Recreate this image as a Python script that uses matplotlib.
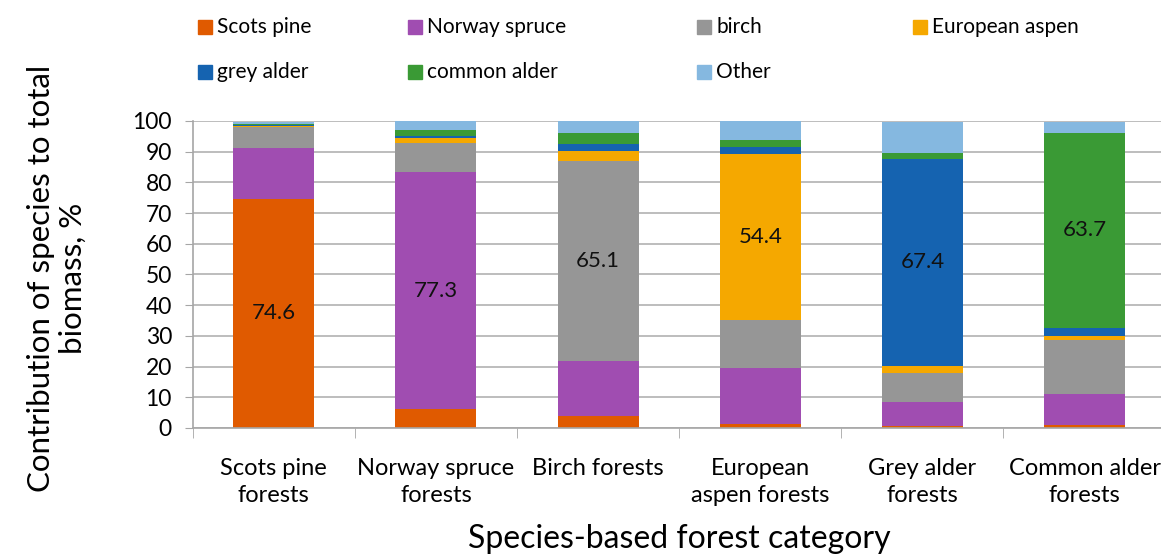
import matplotlib
matplotlib.use("Agg")
import matplotlib.pyplot as plt
import numpy as np
from matplotlib.patches import Rectangle

plt.rcParams['font.family'] = ['Lato', 'DejaVu Sans']

categories = ["Scots pine\nforests", "Norway spruce\nforests", "Birch forests",
              "European\naspen forests", "Grey alder\nforests", "Common alder\nforests"]
species = ["Scots pine", "Norway spruce", "birch", "European aspen",
           "grey alder", "common alder", "Other"]
colors = ["#E05A00", "#A04DB1", "#969696", "#F5A800", "#1563B0", "#3A9A35", "#85B8E0"]

# share of each species, % (one list per species, one value per forest category)
scots_pine = [74.6, 6.0, 3.8, 1.4, 0.7, 0.9]
norway_spruce = [16.7, 77.3, 18.1, 18.0, 7.6, 10.3]
birch = [6.8, 9.5, 65.1, 15.6, 9.5, 17.4]
european_aspen = [0.4, 1.5, 3.1, 54.4, 2.4, 1.4]
grey_alder = [0.1, 0.8, 2.3, 2.2, 67.4, 2.5]
common_alder = [0.3, 2.1, 3.7, 2.1, 1.9, 63.7]
other = [0.9, 2.7, 3.8, 6.3, 10.3, 3.5]
series = [scots_pine, norway_spruce, birch, european_aspen, grey_alder, common_alder, other]

fig = plt.figure(figsize=(11.61, 5.55), dpi=100)
ax = fig.add_axes([0.166, 0.229, 0.838, 0.553])

x = np.arange(len(categories))
bottom = np.zeros(len(categories))
for vals, col in zip(series, colors):
    vals = np.array(vals)
    ax.bar(x, vals, width=0.5, bottom=bottom, color=col, zorder=2)
    bottom += vals

# value labels on the dominant species of each category
for i in range(len(categories)):
    base = sum(series[j][i] for j in range(i))
    v = series[i][i]
    ax.text(i, base + v / 2, f"{v:.1f}", ha='center', va='center', fontsize=16,
            color='#111111', zorder=3)

ax.set_ylim(0, 100)
ax.set_xlim(-0.5, len(categories) - 0.5)
ax.set_yticks(range(0, 101, 10))
ax.yaxis.grid(True, color='#bdbdbd', linewidth=1.4, zorder=0)
ax.set_axisbelow(True)
for s in ['top', 'right']:
    ax.spines[s].set_visible(False)
for s in ['left', 'bottom']:
    ax.spines[s].set_color('#a6a6a6')
    ax.spines[s].set_linewidth(1.2)
ax.tick_params(axis='y', length=6, color='#a6a6a6', labelsize=16.5, pad=9)
ax.set_xticks(x)
ax.set_xticklabels(categories, fontsize=17, linespacing=1.3)
ax.set_xticks(np.arange(len(categories)) - 0.5, minor=True)
ax.tick_params(axis='x', which='major', length=0, pad=22)
ax.tick_params(axis='x', which='minor', length=7, color='#a6a6a6')

ax.set_xlabel("Species-based forest category", fontsize=23, labelpad=13)
fig.text(0.049, 0.499, "Contribution of species to total\nbiomass, %", rotation=90,
         ha='center', va='center', fontsize=22.5, linespacing=1.2)

# legend, laid out like the original (row-major, uneven columns)
col_x = [198, 408, 697, 913]
row_y = [27, 72]
W, H = 1161, 555
for n, (name, col) in enumerate(zip(species, colors)):
    r, c = divmod(n, 4)
    px, py = col_x[c], row_y[r]
    fig.add_artist(Rectangle((px / W, 1 - (py + 7) / H), 14 / W, 14 / H,
                             transform=fig.transFigure, color=col))
    fig.text((px + 19) / W, 1 - py / H, name, ha='left', va='center', fontsize=15)

fig.savefig("out.png", dpi=100)
